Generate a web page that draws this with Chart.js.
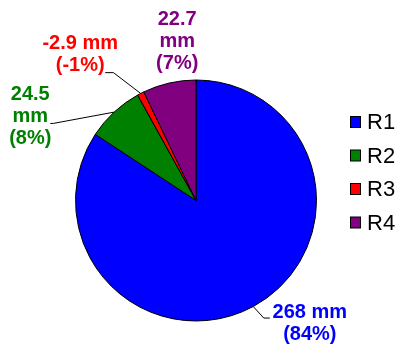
<!DOCTYPE html>
<html>
<head>
<meta charset="utf-8">
<script src="https://cdn.jsdelivr.net/npm/chart.js@4/dist/chart.umd.min.js"></script>
<style>
    html, body { margin: 0; padding: 0; background: #fff; }
    #wrap { width: 404px; height: 344px; position: relative; }
</style>
</head>
<body>
<div id="wrap"><canvas id="myChart"></canvas></div>
<script>
// Data
const regions = ['R1', 'R2', 'R3', 'R4'];
const depths = [268, 24.5, -2.9, 22.7];   // mm
const colours = ['#0000FF', '#008000', '#FF0000', '#800080'];

// Slice size uses the magnitude, percentages are signed
const total = depths.reduce((s, v) => s + Math.abs(v), 0);
const percents = depths.map(v => Math.round(v / total * 100));

// Where each label sits, relative to the middle of its slice's outer edge
const labelSpots = [
    { leader: [[10.6, 11.5], [16.6, 11.5]], text: [56.6, 5.5], wrap: false },
    { leader: [[-60.8, 11.3], [-63.8, 11.3]], text: [-83.8, -17.2], wrap: true },
    { leader: [[-27.2, -20.8], [-35.5, -20.8]], text: [-60.5, -49.5], wrap: false },
    { leader: null, text: [8, -63.5], wrap: true }
];

const font = '"Liberation Sans", Arial, sans-serif';

// Labels with leader lines
const sliceLabels = {
    id: 'sliceLabels',
    afterDatasetsDraw(chart) {
        const ctx = chart.ctx;
        const arcs = chart.getDatasetMeta(0).data;
        ctx.save();
        arcs.forEach((arc, i) => {
            const mid = (arc.startAngle + arc.endAngle) / 2;
            const ex = arc.x + Math.cos(mid) * arc.outerRadius;
            const ey = arc.y + Math.sin(mid) * arc.outerRadius;
            const spot = labelSpots[i];

            if (spot.leader) {
                ctx.strokeStyle = '#000';
                ctx.lineWidth = 1;
                ctx.beginPath();
                ctx.moveTo(ex, ey);
                spot.leader.forEach(p => ctx.lineTo(ex + p[0], ey + p[1]));
                ctx.stroke();
            }

            const lines = spot.wrap
                ? [String(depths[i]), 'mm', '(' + percents[i] + '%)']
                : [depths[i] + ' mm', '(' + percents[i] + '%)'];
            ctx.fillStyle = colours[i];
            ctx.font = 'bold 20px ' + font;
            ctx.textAlign = 'center';
            ctx.textBaseline = 'middle';
            lines.forEach((t, k) => {
                ctx.fillText(t, ex + spot.text[0], ey + spot.text[1] + k * 22);
            });
        });
        ctx.restore();
    }
};

// Legend on the right
const sideLegend = {
    id: 'sideLegend',
    afterDraw(chart) {
        const ctx = chart.ctx;
        ctx.save();
        regions.forEach((r, i) => {
            const y = 122 + i * 33.5;
            ctx.fillStyle = colours[i];
            ctx.fillRect(350.5, y - 5.5, 10, 11);
            ctx.strokeStyle = '#000';
            ctx.lineWidth = 1;
            ctx.strokeRect(350.5, y - 5.5, 10, 11);
            ctx.fillStyle = '#000';
            ctx.font = '22px ' + font;
            ctx.textAlign = 'left';
            ctx.textBaseline = 'middle';
            ctx.fillText(r, 367, y + 1);
        });
        ctx.restore();
    }
};

let ctx = document.getElementById('myChart');
let myChart = new Chart(ctx, {
    type: 'pie',
    data: {
        labels: regions,
        datasets: [{
            data: depths.map(v => Math.abs(v)),
            backgroundColor: colours,
            borderColor: '#000',
            borderWidth: 1
        }]
    },
    options: {
        responsive: true,
        maintainAspectRatio: false,
        animation: false,
        layout: { padding: { left: 75, right: 87, top: 79, bottom: 22 } },
        plugins: {
            legend: { display: false },
            tooltip: { enabled: false }
        }
    },
    plugins: [sliceLabels, sideLegend]
});
</script>
</body>
</html>
